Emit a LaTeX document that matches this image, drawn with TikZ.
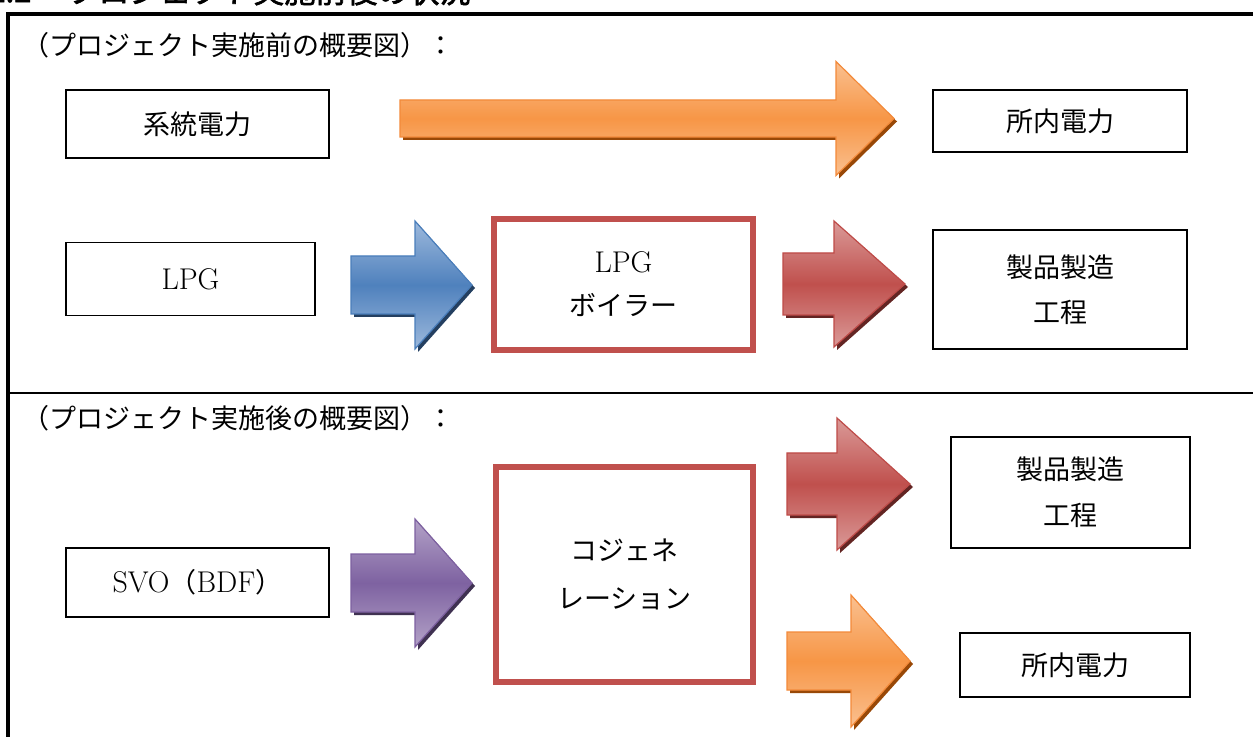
\documentclass[tikz,border=0pt]{standalone}
\usepackage{fontspec}
\newfontfamily\jp{Noto Sans CJK JP}
\newfontfamily\jpb{Noto Sans CJK JP}[FakeBold=2]
\newfontfamily\lat{Latin Modern Roman}
\usetikzlibrary{calc}
\definecolor{orMain}{HTML}{F79646}
\definecolor{orLight}{HTML}{FAC090}
\definecolor{orDark}{HTML}{984807}
\definecolor{orEdge}{HTML}{F38A3A}
\definecolor{blMain}{HTML}{4F81BD}
\definecolor{blLight}{HTML}{9DB9DC}
\definecolor{blDark}{HTML}{243F60}
\definecolor{blEdge}{HTML}{4A7EBB}
\definecolor{rdMain}{HTML}{C0504D}
\definecolor{rdLight}{HTML}{DA9A98}
\definecolor{rdDark}{HTML}{632523}
\definecolor{rdEdge}{HTML}{BE4B48}
\definecolor{puMain}{HTML}{7E62A1}
\definecolor{puLight}{HTML}{B3A2C7}
\definecolor{puDark}{HTML}{3F3151}
\definecolor{puEdge}{HTML}{7D60A0}
\newcommand\arrowpath[6]{(#1,{#4-#5}) -- (#2,{#4-#5}) -- (#2,{#4-#6}) -- (#3,#4) -- (#2,{#4+#6}) -- (#2,{#4+#5}) -- (#1,{#4+#5}) -- cycle}
% #1 left, #2 head base, #3 tip, #4 centre y, #5 shaft half, #6 head half, #7 colour prefix
\newcommand\blockarrow[7]{%
  \begin{scope}[shift={(3,3)}]\fill[#7Dark] \arrowpath{#1}{#2}{#3}{#4}{#5}{#6};\end{scope}
  \shade[top color=#7Light, bottom color=#7Light, middle color=#7Main, draw=#7Edge, line width=0.6pt] \arrowpath{#1}{#2}{#3}{#4}{#5}{#6};}
\newcommand\latn[1]{{\lat\fontsize{15}{16}\selectfont #1}}
\tikzset{
  jptext/.style={font=\jp\fontsize{13.5}{22}\selectfont},
  box/.style={draw=black, line width=0.8pt, fill=white, inner sep=0pt, align=center, jptext},
  redbox/.style={draw=rdMain, line width=2.6pt, fill=white, inner sep=0pt, align=center, jptext},
  frame/.style={line width=1.75pt, black},
  divider/.style={line width=1.25pt, black},
  header/.style={anchor=west, inner sep=0pt, jptext},
  heading/.style={anchor=west, inner sep=0pt, font=\jpb\fontsize{15.5}{18}\selectfont}
}
\begin{document}
\begin{tikzpicture}[x=0.5pt,y=-0.5pt]
\useasboundingbox (0,0) rectangle (1253,737);
\clip (0,0) rectangle (1253,737);
\fill[white] (0,0) rectangle (1253,737);
% cut-off heading
\node[heading] (h0) at (-12,-9) {2.2};
\node[heading] (h1) at (67,-9) {プロジェクト実施前後の状況};
% frame
\coordinate (fl) at (8,14);
\coordinate (fb) at (8,745);
\coordinate (fr) at (1260,14);
\draw[frame] (fb) -- (fl) -- (fr);
\coordinate (dl) at (8,393);
\coordinate (dr) at (1260,393);
\draw[divider] (dl) -- (dr);
% headers
\node[header] (t1) at (22,45) {（プロジェクト実施前の概要図）：};
\node[header] (t2) at (22,418) {（プロジェクト実施後の概要図）：};
% arrows
\blockarrow{400}{836}{894}{118.5}{18.5}{57}{or}
\blockarrow{351}{415}{472}{285}{29}{64}{bl}
\blockarrow{783}{834}{905}{284}{31}{63}{rd}
\blockarrow{351}{415}{472}{583}{29}{64}{pu}
\blockarrow{787}{837}{910}{484}{31}{66}{rd}
\blockarrow{787}{851}{910}{661}{29}{66}{or}
% before
\node[box, minimum width=131.5pt, minimum height=34pt] (grid) at (197.5,124) {系統電力};
\node[box, minimum width=124.5pt, minimum height=36.5pt] (lpg) at (190.5,279) {\latn{LPG}};
\node[box, minimum width=127pt, minimum height=31pt] (own1) at (1060,121) {所内電力};
\node[redbox, minimum width=129.5pt, minimum height=65.5pt, font=\jp\fontsize{13.5}{21.5}\selectfont] (boiler) at (623.5,284.5) {\latn{LPG}\\ボイラー};
\node[box, minimum width=127pt, minimum height=59.5pt, font=\jp\fontsize{13.5}{22.5}\selectfont] (prod1) at (1060,289.5) {製品製造\\工程};
% after
\node[box, minimum width=131.5pt, minimum height=34.5pt] (svo) at (197.5,582.5) {\latn{SVO}（\latn{BDF}）};
\node[redbox, minimum width=128.5pt, minimum height=107.5pt, font=\jp\fontsize{13.5}{24}\selectfont] (cogen) at (624.5,574.5) {コジェネ\\レーション};
\node[box, minimum width=119.5pt, minimum height=55.5pt, font=\jp\fontsize{13.5}{23}\selectfont] (prod2) at (1070.5,492.5) {製品製造\\工程};
\node[box, minimum width=115pt, minimum height=32pt] (own2) at (1075,665) {所内電力};
\end{tikzpicture}
\end{document}
